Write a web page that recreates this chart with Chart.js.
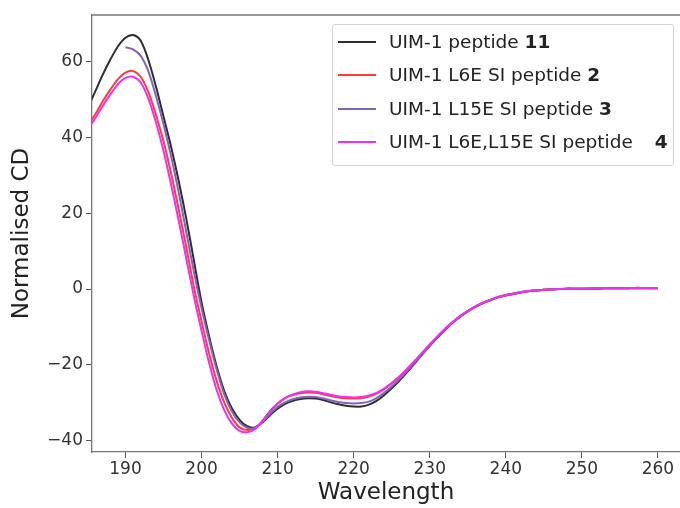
<!DOCTYPE html>
<html lang="en">
<head>
<meta charset="UTF-8">
<script src="https://cdn.jsdelivr.net/npm/chart.js"></script>
<style>
  body { margin: 0; background: #fff; font-family: 'DejaVu Sans', sans-serif; }
  #wrap { position: relative; width: 680px; height: 508px; }
  /* legend with bold peptide numbers, drawn as html over the canvas */
  #legend {
    position: absolute; left: 332px; top: 24px; width: 342px; height: 142px;
    box-sizing: border-box; border: 1px solid #d4d4d4; border-radius: 3px;
    background: rgba(255,255,255,0.85); font-size: 18.5px; color: #222;
  }
  .row { position: absolute; left: 0; height: 24px; line-height: 24px; white-space: nowrap; }
  .swatch { position: absolute; left: 5px; top: 11px; width: 38px; height: 0; border-top: 2px solid; }
  .txt { position: absolute; left: 56px; top: 0; }
  b { font-weight: bold; }
</style>
</head>
<body>
<div id="wrap">
  <canvas id="cd" width="680" height="508"></canvas>
  <div id="legend"></div>
</div>
<script>
// wavelength grid (nm)
const wavelength = [
  185, 186, 187, 188, 189, 190, 191, 192, 193, 194,
  195, 196, 197, 198, 199, 200, 201, 202, 203, 204,
  205, 206, 207, 208, 209, 210, 211, 212, 213, 214,
  215, 216, 217, 218, 219, 220, 221, 222, 223, 224,
  225, 226, 227, 228, 229, 230, 231, 232, 233, 234,
  235, 236, 237, 238, 239, 240, 241, 242, 243, 244,
  245, 246, 247, 248, 249, 250, 251, 252, 253, 254,
  255, 256, 257, 258, 259, 260
];

// UIM-1 peptide 11
const cd11 = [
  47.5, 52, 56.5, 60.5, 64, 66.3, 67, 65.5, 60.5, 53.5,
  45.5, 37.5, 28.5, 18.5, 7.5, -3.5, -12.5, -20.5, -27, -31.5,
  -34.5, -36.2, -36.5, -35.2, -33.3, -31.6, -30.3, -29.5, -29, -28.8,
  -28.9, -29.3, -29.9, -30.4, -30.8, -31, -31, -30.5, -29.5, -28,
  -26.2, -24.2, -22, -19.7, -17.3, -15, -12.8, -10.8, -8.9, -7.3,
  -5.9, -4.7, -3.7, -2.9, -2.2, -1.7, -1.3, -0.9, -0.6, -0.4,
  -0.2, -0.1, 0, 0.1, 0.1, 0.1, 0.1, 0.1, 0.2, 0.2,
  0.2, 0.2, 0.2, 0.2, 0.2, 0.2
];

// UIM-1 L6E SI peptide 2
const cd2 = [
  43, 46, 49.5, 52.6, 55.3, 57.1, 57.5, 56, 52, 46,
  39, 30.5, 21, 11, 0.5, -8.5, -17, -24.3, -30, -34,
  -36.5, -37.2, -36.8, -34.8, -32.3, -30.3, -28.8, -28, -27.5, -27.3,
  -27.4, -27.8, -28.2, -28.6, -28.8, -28.9, -28.8, -28.4, -27.6, -26.4,
  -24.9, -23.2, -21.2, -19.1, -16.9, -14.7, -12.6, -10.6, -8.8, -7.2,
  -5.8, -4.6, -3.6, -2.8, -2.1, -1.6, -1.2, -0.8, -0.5, -0.3,
  -0.2, -0.1, 0, 0.1, 0.1, 0.1, 0.1, 0.2, 0.2, 0.2,
  0.2, 0.2, 0.3, 0.3, 0.3, 0.3
];

// UIM-1 L15E SI peptide 3 (starts at 190 nm)
const cd3 = [
  null, null, null, null, null, 63.8, 63.2, 61.5, 57.5, 51,
  43.5, 35, 25.5, 15, 4.5, -5, -13.5, -21.3, -27.8, -32.3,
  -35.2, -36.6, -36.7, -35.1, -33, -31.1, -29.9, -29.1, -28.6, -28.4,
  -28.5, -28.9, -29.4, -29.8, -30.1, -30.2, -30.1, -29.7, -28.8, -27.4,
  -25.7, -23.8, -21.7, -19.5, -17.2, -14.9, -12.7, -10.7, -8.9, -7.3,
  -5.9, -4.7, -3.7, -2.9, -2.2, -1.7, -1.3, -0.9, -0.6, -0.4,
  -0.2, -0.1, 0, 0.1, 0.1, 0.1, 0.1, 0.1, 0.2, 0.2,
  0.2, 0.2, 0.2, 0.2, 0.2, 0.2
];

// UIM-1 L6E,L15E SI peptide 4
const cd4 = [
  42, 45, 48.3, 51.3, 54, 55.7, 56, 54.5, 50.3, 44,
  36.5, 27.5, 18, 8, -2, -11, -19.5, -26.7, -32, -35.5,
  -37.4, -37.8, -37, -34.8, -32.2, -30.2, -28.7, -27.8, -27.2, -27,
  -27.1, -27.5, -27.9, -28.3, -28.5, -28.6, -28.5, -28.1, -27.4, -26.3,
  -24.8, -23.1, -21.1, -19, -16.8, -14.6, -12.5, -10.5, -8.7, -7.1,
  -5.8, -4.6, -3.6, -2.8, -2.1, -1.6, -1.2, -0.8, -0.5, -0.3,
  -0.2, -0.1, 0, 0.1, 0.1, 0.1, 0.2, 0.2, 0.2, 0.2,
  0.2, 0.2, 0.3, 0.3, 0.3, 0.3
];

const seriesNames = ['UIM-1 peptide', 'UIM-1 L6E SI peptide', 'UIM-1 L15E SI peptide', 'UIM-1 L6E,L15E SI peptide'];
const seriesNumbers = ['11', '2', '3', '4'];
const seriesColors = ['#2e2e2e', '#ff3b3b', '#8064b8', '#f22ef2'];
const xTicks = [190, 200, 210, 220, 230, 240, 250, 260];
const yTicks = [-40, -20, 0, 20, 40, 60];

const allSeries = [cd11, cd2, cd3, cd4];

function points(vals) {
  return wavelength.map((w, i) => ({ x: w, y: vals[i] }));
}

// top spine (the right one is cut off in the original)
const topSpine = {
  id: 'topSpine',
  afterDraw(chart) {
    const a = chart.chartArea, c = chart.ctx;
    c.save();
    c.strokeStyle = '#777';
    c.lineWidth = 1.3;
    c.beginPath();
    c.moveTo(a.left, a.top);
    c.lineTo(a.right, a.top);
    c.stroke();
    c.restore();
  }
};

const minus = v => String(v).replace('-', '\u2212');

new Chart(document.getElementById('cd'), {
  type: 'line',
  data: {
    datasets: allSeries.map((s, i) => ({
      label: seriesNames[i] + ' ' + seriesNumbers[i],
      data: points(s),
      borderColor: seriesColors[i],
      borderWidth: 2,
      pointRadius: 0,
      tension: 0.3,
      fill: false,
      order: allSeries.length - i
    }))
  },
  options: {
    responsive: false,
    animation: false,
    layout: { padding: { top: 15, right: 0, left: 0, bottom: 0 } },
    plugins: { legend: { display: false }, tooltip: { enabled: false } },
    scales: {
      x: {
        type: 'linear',
        min: 185.6,
        max: 262.9,
        afterBuildTicks: s => { s.ticks = xTicks.map(v => ({ value: v })); },
        afterFit: s => { s.height = 56; },
        grid: { drawOnChartArea: false, tickLength: 6, tickColor: '#555' },
        border: { color: '#777', width: 1.3 },
        ticks: { color: '#333', padding: 1, font: { family: 'DejaVu Sans', size: 17 } },
        title: {
          display: true, text: 'Wavelength', color: '#222',
          padding: { top: 0, bottom: 1 },
          font: { family: 'DejaVu Sans', size: 23 }
        }
      },
      y: {
        min: -43,
        max: 72.3,
        afterBuildTicks: s => { s.ticks = yTicks.map(v => ({ value: v })); },
        afterFit: s => { s.width = 92; },
        grid: { drawOnChartArea: false, tickLength: 6, tickColor: '#555' },
        border: { color: '#777', width: 1.3 },
        ticks: { color: '#333', padding: 3, font: { family: 'DejaVu Sans', size: 17 }, callback: v => minus(v) },
        title: {
          display: true, text: 'Normalised CD', color: '#222',
          padding: { top: 8, bottom: 0 },
          font: { family: 'DejaVu Sans', size: 23 }
        }
      }
    }
  },
  plugins: [topSpine]
});

// legend rows
const legend = document.getElementById('legend');
const rowTops = [5, 38, 72, 105];
seriesNames.forEach((name, i) => {
  const row = document.createElement('div');
  row.className = 'row';
  row.style.top = rowTops[i] + 'px';
  const gap = i === 3 ? '<span style="display:inline-block;width:22px"></span>' : ' ';
  row.innerHTML = '<span class="swatch" style="border-color:' + seriesColors[i] + '"></span>' +
    '<span class="txt">' + name + gap + '<b>' + seriesNumbers[i] + '</b></span>';
  legend.appendChild(row);
});
</script>
</body>
</html>
